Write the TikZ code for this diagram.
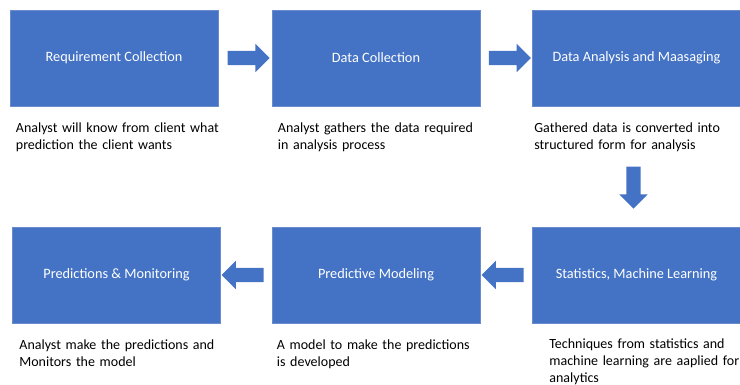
\documentclass[tikz,border=0pt]{standalone}
\usepackage{fontspec}
\setmainfont{Carlito}
\usetikzlibrary{shapes.arrows,calc}
\definecolor{boxblue}{HTML}{4472C4}
\definecolor{boxedge}{HTML}{6A8CCC}
\begin{document}
\begin{tikzpicture}[x=1pt,y=-1pt,
  stage/.style={rectangle,fill=boxblue,draw=boxedge,line width=0.6pt,
    minimum width=208pt,minimum height=96pt,inner sep=0pt,
    text=white,font=\fontsize{14.3}{17}\selectfont},
  note/.style={anchor=base west,inner sep=0pt,text width=230pt,align=left,
    font=\fontsize{14}{17}\selectfont},
  fat/.style={single arrow,fill=boxblue,draw=none,inner xsep=0pt,inner ysep=7pt,
    single arrow head extend=7pt,minimum height=42pt,minimum width=28pt}]
\useasboundingbox (0,0) rectangle (740,385);

% top row
\node[stage] (req)  at (114,58)   {Requirement Collection};
\node[stage] (data) at (376,58)   {Data Collection};
\node[stage] (ana)  at (636.5,58) {Data Analysis and Maasaging};
% bottom row
\node[stage] (pred) at (116.5,275) {Predictions \& Monitoring};
\node[stage] (mod)  at (376,275)   {Predictive Modeling};
\node[stage] (stat) at (636.5,275) {Statistics, Machine Learning};

% block arrows between the stages
\node[fat] (a1) at ($(req.east)!0.5!(data.west)$) {};
\node[fat] (a2) at ($(data.east)!0.5!(ana.west)$) {};
\node[fat,rotate=-90] (a3) at (633.5,184) {};
\node[fat,rotate=180] (a4) at ($(stat.west)!0.5!(mod.east)$) {};
\node[fat,rotate=180] (a5) at ($(mod.west)!0.5!(pred.east)$) {};

% descriptions
\node[note] (n1) at ($(req.south west)+(6,26)$)  {Analyst will know from client what\\prediction the client wants};
\node[note] (n2) at ($(data.south west)+(6,26)$) {Analyst gathers the data required\\in analysis process};
\node[note] (n3) at ($(ana.south west)+(2,26)$)  {Gathered data is converted into\\structured form for analysis};
\node[note] (n4) at ($(pred.south west)+(7,26)$) {Analyst make the predictions and\\Monitors the model};
\node[note] (n5) at ($(mod.south west)+(5,26)$)  {A model to make the predictions\\is developed};
\node[note] (n6) at ($(stat.south west)+(17,25)$) {Techniques from statistics and\\machine learning are aaplied for\\analytics};
\end{tikzpicture}
\end{document}
